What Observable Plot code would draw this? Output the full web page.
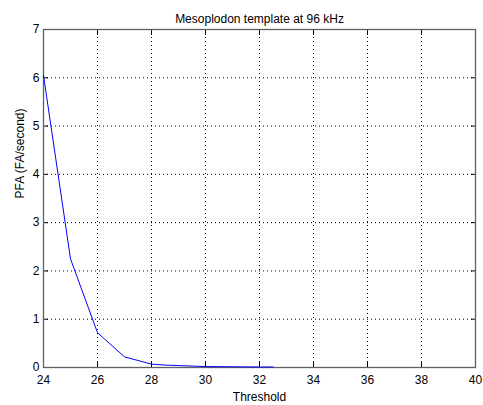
<!DOCTYPE html>
<html>
<head>
<meta charset="utf-8">
<script src="https://cdn.jsdelivr.net/npm/d3@7"></script>
<script src="https://cdn.jsdelivr.net/npm/@observablehq/plot@0.6"></script>
<style>
  html, body { margin: 0; padding: 0; background: #fff; }
  #chart svg { display: block; }
</style>
</head>
<body>
<div id="chart"></div>
<script>
const title = "Mesoplodon template at 96 kHz";
const xLabel = "Threshold";
const yLabel = "PFA (FA/second)";
const thresholds = [24, 25, 26, 27, 28, 28.5, 29, 29.5, 30, 31, 32, 32.5];
const pfa = [6.05, 2.25, 0.72, 0.22, 0.07, 0.05, 0.04, 0.03, 0.02, 0.015, 0.01, 0.01];
const xTicks = [24, 26, 28, 30, 32, 34, 36, 38, 40];
const yTicks = [0, 1, 2, 3, 4, 5, 6, 7];

const data = thresholds.map((t, i) => ({x: t, y: pfa[i]}));
const xInner = xTicks.slice(1, -1);
const yInner = yTicks.slice(1, -1);
const frameColor = "#606060";

const chart = Plot.plot({
  width: 483,
  height: 405,
  marginLeft: 43,
  marginRight: 8,
  marginTop: 29,
  marginBottom: 38,
  style: {fontFamily: "Liberation Sans, Arial, sans-serif", fontSize: "12px", color: "#000", background: "#fff"},
  x: {domain: [24, 40]},
  y: {domain: [0, 7]},
  marks: [
    Plot.ruleX(xInner, {stroke: "#000", strokeDasharray: "1,3", strokeWidth: 1}),
    Plot.ruleY(yInner, {stroke: "#000", strokeDasharray: "1,3", strokeWidth: 1}),
    Plot.axisX({anchor: "bottom", ticks: xTicks, tickFormat: "d", tickSize: -5, tickPadding: 13, stroke: "#000", fill: "#000", label: null, fontSize: 12}),
    Plot.axisX({anchor: "top", ticks: xTicks, tickSize: -5, tickFormat: () => "", stroke: "#000", label: null}),
    Plot.axisY({anchor: "left", ticks: yTicks, tickFormat: "d", tickSize: -5, tickPadding: 9, stroke: "#000", fill: "#000", label: null, fontSize: 12}),
    Plot.axisY({anchor: "right", ticks: yTicks, tickSize: -5, tickFormat: () => "", stroke: "#000", label: null}),
    Plot.frame({stroke: frameColor, strokeWidth: 1.3}),
    Plot.line(data, {x: "x", y: "y", stroke: "#0000ff", strokeWidth: 1}),
    Plot.text([title], {frameAnchor: "top", dy: -15, fontSize: 12, fill: "#000"}),
    Plot.text([xLabel], {frameAnchor: "bottom", dy: 33, fontSize: 12, fill: "#000"}),
    Plot.text([yLabel], {frameAnchor: "left", dx: -23, rotate: -90, fontSize: 12, fill: "#000"})
  ]
});
document.getElementById("chart").appendChild(chart);
</script>
</body>
</html>
